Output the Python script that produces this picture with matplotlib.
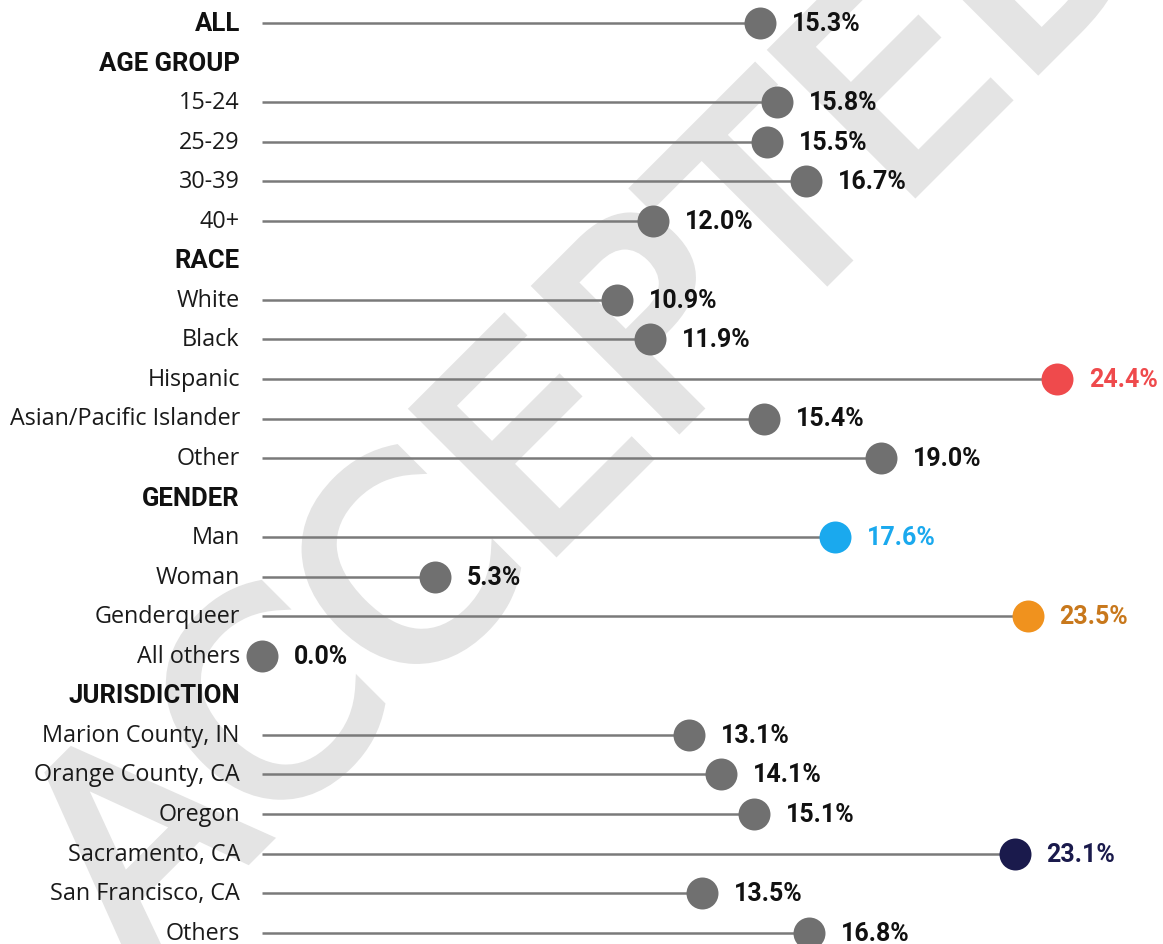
import matplotlib
matplotlib.use("Agg")
import matplotlib.pyplot as plt
from matplotlib import font_manager
import matplotlib.patheffects as pe

# ---- data ----
labels = ["ALL", "AGE GROUP", "15-24", "25-29", "30-39", "40+",
          "RACE", "White", "Black", "Hispanic", "Asian/Pacific Islander", "Other",
          "GENDER", "Man", "Woman", "Genderqueer", "All others",
          "JURISDICTION", "Marion County, IN", "Orange County, CA", "Oregon",
          "Sacramento, CA", "San Francisco, CA", "Others"]
values = [15.3, None, 15.8, 15.5, 16.7, 12.0,
          None, 10.9, 11.9, 24.4, 15.4, 19.0,
          None, 17.6, 5.3, 23.5, 0.0,
          None, 13.1, 14.1, 15.1, 23.1, 13.5, 16.8]
bold_rows = ["ALL", "AGE GROUP", "RACE", "GENDER", "JURISDICTION"]
highlight_dot = {"Hispanic": "#EF4A4C", "Man": "#1AA9EE",
                 "Genderqueer": "#F0921E", "Sacramento, CA": "#1A1A4C"}
highlight_txt = {"Hispanic": "#EF4A4C", "Man": "#1AA9EE",
                 "Genderqueer": "#C8781C", "Sacramento, CA": "#1A1A4C"}
watermark = "ACCEPTED"

available = {f.name for f in font_manager.fontManager.ttflist}
def pick(*names):
    for n in names:
        if n in available:
            return n
    return "DejaVu Sans"

label_font = pick("Open Sans", "Noto Sans", "Lato")
narrow_font = pick("Liberation Sans Narrow", "Roboto", "Liberation Sans")

W, H = 1163, 945
fig = plt.figure(figsize=(W / 100, H / 100), dpi=100)
fig.patch.set_facecolor("white")

x0_px, px_per = 262, 32.58
row0, row_h = 24, 39.55
ax = fig.add_axes([x0_px / W, 0, 25 * px_per / W, 1])
ax.set_xlim(0, 25)
ax.set_ylim((H - row0) / row_h, -row0 / row_h)
ax.axis("off")
ax.patch.set_alpha(0)

# watermark
fig.text(0.515, 0.575, watermark, rotation=45, fontsize=198,
         color="#e4e4e4", ha="center", va="center", rotation_mode="anchor",
         family="DejaVu Sans", zorder=-5,
         path_effects=[pe.withStroke(linewidth=7, foreground="#e4e4e4",
                                     joinstyle="miter")])

for i, (lab, v) in enumerate(zip(labels, values)):
    if lab in bold_rows:
        ax.annotate(lab, (0, i), xytext=(-16, 0), textcoords="offset points",
                    ha="right", va="center", fontsize=18.5, fontweight="bold",
                    family=narrow_font, color="#111111", annotation_clip=False)
    else:
        ax.annotate(lab, (0, i), xytext=(-16, 0), textcoords="offset points",
                    ha="right", va="center", fontsize=16.8, family=label_font,
                    color="#1a1a1a", annotation_clip=False)
    if v is None:
        continue
    dc = highlight_dot.get(lab, "#707070")
    tc = highlight_txt.get(lab, "#111111")
    ax.plot([0, v], [i, i], color="#7a7a7a", lw=1.8, solid_capstyle="butt",
            zorder=2, clip_on=False)
    ax.scatter([v], [i], s=530, color=dc, zorder=3, clip_on=False, linewidths=0)
    ax.annotate(f"{v:.1f}%", (v, i), xytext=(23, 0), textcoords="offset points",
                ha="left", va="center", fontsize=18, fontweight="bold",
                family=narrow_font, color=tc, annotation_clip=False)

fig.savefig("out.png", dpi=100)
